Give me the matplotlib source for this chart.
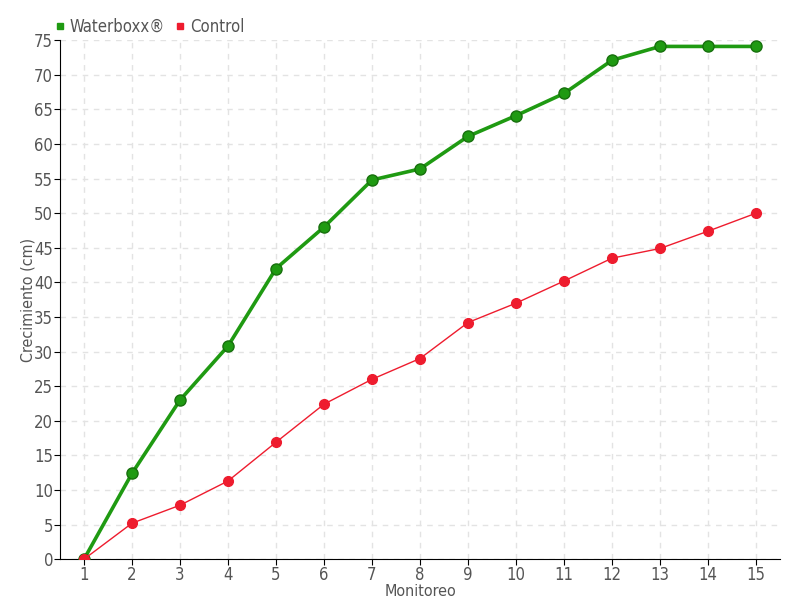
import matplotlib
matplotlib.use("Agg")
import matplotlib.pyplot as plt
from matplotlib.lines import Line2D

plt.rcParams["font.family"] = ["DejaVu Sans"]
plt.rcParams["font.stretch"] = "condensed"

# datos
monitoreo = list(range(1, 16))
waterboxx = [0, 12.4, 23.0, 30.8, 42.0, 48.0, 54.8, 56.4, 61.1, 64.1, 67.3, 72.1, 74.1, 74.1, 74.1]
control = [0, 5.2, 7.8, 11.3, 16.9, 22.4, 26.0, 29.0, 34.2, 37.0, 40.2, 43.5, 44.9, 47.4, 50.0]

C_GREEN = "#1f9a12"
C_RED = "#ee1c2e"
C_TXT = "#555555"

fig = plt.figure(figsize=(8, 6), dpi=100)
ax = fig.add_axes([0.075, 0.068, 0.90, 0.865])

ax.plot(monitoreo, waterboxx, color=C_GREEN, lw=2.6, marker="o", ms=8,
        markerfacecolor=C_GREEN, markeredgecolor="#17700d", markeredgewidth=1, zorder=3)
ax.plot(monitoreo, control, color=C_RED, lw=1, marker="o", ms=7,
        markerfacecolor=C_RED, markeredgecolor=C_RED, zorder=4)

ax.set_xlim(0.5, 15.5)
ax.set_ylim(0, 75)
ax.set_xticks(monitoreo)
ax.set_yticks(range(0, 80, 5))
ax.grid(True, linestyle=(0, (4, 4)), color="#e3e3e3", lw=1)
ax.set_axisbelow(True)
for s in ("top", "right"):
    ax.spines[s].set_visible(False)
for s in ("left", "bottom"):
    ax.spines[s].set_color("black")
ax.tick_params(colors="black", labelcolor=C_TXT, labelsize=12, length=4, pad=1)

ax.set_xlabel("Monitoreo", fontsize=11.5, color=C_TXT, labelpad=0)
ax.set_ylabel("Crecimiento (cm)", fontsize=11.5, color=C_TXT, labelpad=-1)

handles = [
    Line2D([0], [0], marker="s", color="none", markerfacecolor=C_GREEN, markeredgecolor=C_GREEN, ms=5, label="Waterboxx®"),
    Line2D([0], [0], marker="s", color="none", markerfacecolor=C_RED, markeredgecolor=C_RED, ms=5, label="Control"),
]
leg = fig.legend(handles=handles, loc="upper left", bbox_to_anchor=(0.05, 0.995), ncol=2,
                 frameon=False, fontsize=12, handlelength=0.6, handletextpad=0.3, columnspacing=0.6)
for t in leg.get_texts():
    t.set_color(C_TXT)

fig.savefig("out.png", dpi=100)
